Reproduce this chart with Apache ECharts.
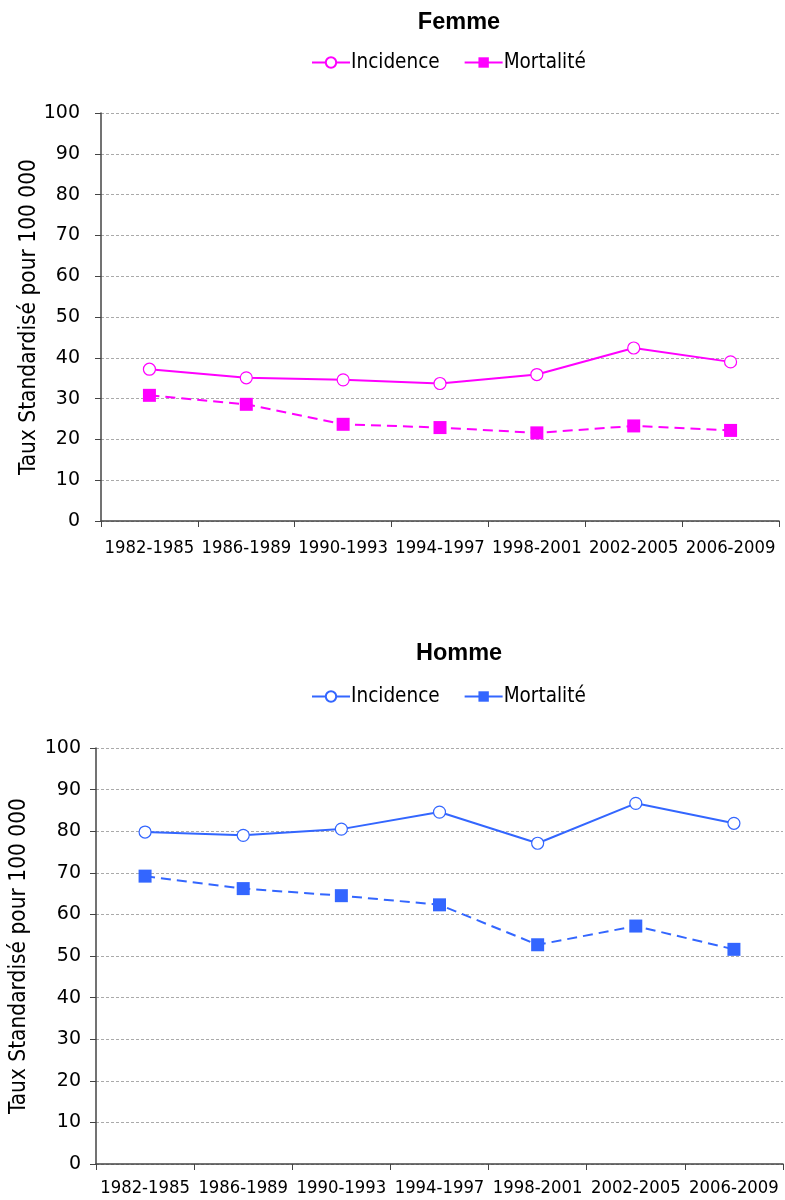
<!DOCTYPE html>
<html><head><meta charset="utf-8">
<script src="https://cdn.jsdelivr.net/npm/echarts@6/dist/echarts.min.js"></script>
<style>body{margin:0;background:#fff}#c1,#c2{width:785px;height:600px}</style>
</head><body><div id="c1"></div><div id="c2"></div>
<script>
const categories = ["1982-1985","1986-1989","1990-1993","1994-1997","1998-2001","2002-2005","2006-2009"];
const femmeIncidence = [37.2, 35.1, 34.6, 33.7, 35.9, 42.4, 39.0];
const femmeMortalite = [30.8, 28.6, 23.7, 22.9, 21.6, 23.3, 22.2];
const hommeIncidence = [79.8, 79.0, 80.5, 84.6, 77.1, 86.7, 81.9];
const hommeMortalite = [69.2, 66.2, 64.5, 62.3, 52.7, 57.2, 51.6];
const yTicks = [0,10,20,30,40,50,60,70,80,90,100];

const FONT = "DejaVu Sans Condensed";
function makeOption(title, color, inc, mort, g, titleTop, legendTop, xMargin, yMargin, nameGap){
  return {
    animation:false,
    title:{text:title,left:454,textAlign:'center',top:titleTop,textStyle:{fontFamily:'Liberation Sans',fontWeight:'bold',fontSize:23.5,color:'#000'}},
    legend:{top:legendTop,left:306,itemWidth:38,itemHeight:13,itemGap:24,
      lineStyle:{type:'solid'},
      textStyle:{fontFamily:FONT,fontSize:20.5,color:'#000',padding:[0,0,0,-4]},
      data:['Incidence','Mortalité']},
    grid:g,
    xAxis:{type:'category',data:categories,boundaryGap:true,
      axisLine:{lineStyle:{color:'#444',width:1.5}},
      axisTick:{show:true,alignWithLabel:false,length:6,lineStyle:{color:'#444'}},
      axisLabel:{fontFamily:FONT,fontSize:18.3,color:'#000',margin:xMargin,interval:0}},
    yAxis:{type:'value',min:0,max:100,interval:10,
      name:'Taux Standardisé pour 100 000',nameLocation:'middle',nameGap:nameGap,
      nameMoveOverlap:false,
      nameTextStyle:{fontFamily:FONT,fontSize:22.5,color:'#000'},
      axisLine:{show:true,lineStyle:{color:'#444',width:1.5}},
      axisTick:{show:true,length:6,lineStyle:{color:'#444'}},
      axisLabel:{fontFamily:'DejaVu Sans',fontSize:19,color:'#000',margin:yMargin,formatter:v=>yTicks.includes(v)?String(v):''},
      splitLine:{show:true,lineStyle:{color:'#aaa',type:[3,2],width:1}}},
    series:[
      {name:'Incidence',type:'line',data:inc,symbol:'circle',symbolSize:12,
       lineStyle:{color:color,width:2},itemStyle:{color:'#fff',borderColor:color,borderWidth:1.2}},
      {name:'Mortalité',type:'line',data:mort,symbol:'rect',symbolSize:13,
       lineStyle:{color:color,width:2,type:[10,6]},itemStyle:{color:color}}
    ]
  };
}
const c1 = echarts.init(document.getElementById('c1'));
c1.setOption(makeOption('Femme','#FF00FF',femmeIncidence,femmeMortalite,
  {left:101,top:113,right:6,height:408},6,47,18,21,60));
const c2 = echarts.init(document.getElementById('c2'));
c2.setOption(makeOption('Homme','#3366FF',hommeIncidence,hommeMortalite,
  {left:94,top:148,right:2,height:416},37,81,15,15,65));
</script></body></html>
